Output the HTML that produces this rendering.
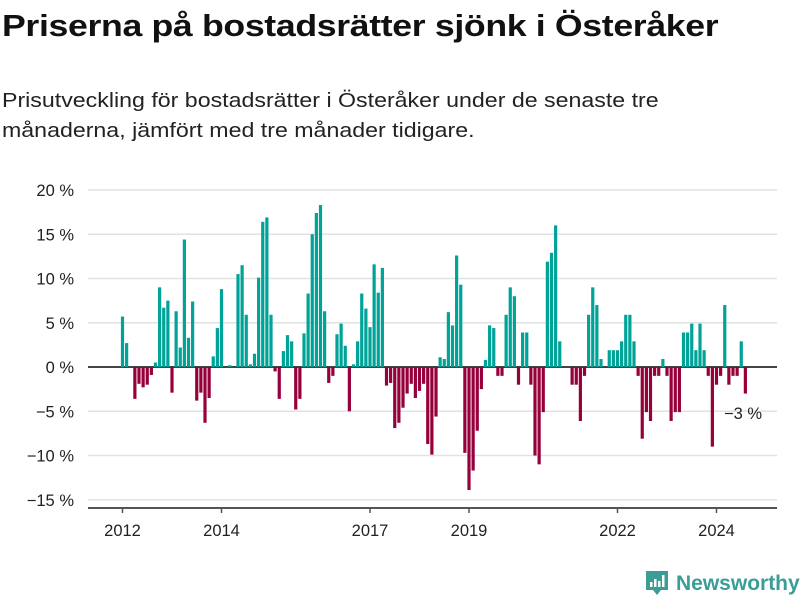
<!DOCTYPE html>
<html><head><meta charset="utf-8"><style>
body{margin:0;background:#fff;width:800px;height:600px;overflow:hidden;font-family:"Liberation Sans","DejaVu Sans",sans-serif;}
#title{position:absolute;left:2px;top:8px;font-size:31px;font-weight:bold;color:#111;margin:0;letter-spacing:-0.3px;white-space:nowrap;transform:scaleX(1.15);transform-origin:left top}
#sub{position:absolute;left:2px;top:86px;font-size:20.5px;line-height:30px;color:#222;width:600px;transform:scaleX(1.13);transform-origin:left top}
svg{position:absolute;left:0;top:0}
</style></head><body>
<h1 id="title">Priserna på bostadsrätter sjönk i Österåker</h1>
<div id="sub">Prisutveckling för bostadsrätter i Österåker under de senaste tre månaderna, jämfört med tre månader tidigare.</div>
<svg id="chart" width="800" height="600"></svg>
<script>
const values = [5.7,2.7,0,-3.6,-1.9,-2.3,-2.0,-0.9,0.5,9.0,6.7,7.5,-2.9,6.3,2.2,14.4,3.3,7.4,-3.8,-2.9,-6.3,-3.5,1.2,4.4,
8.8,0,0.2,0,10.5,11.5,5.9,0.3,1.5,10.1,16.4,16.9,5.9,-0.5,-3.6,1.8,3.6,2.9,-4.8,-3.6,3.8,8.3,15.0,17.4,
18.3,6.3,-1.8,-1.0,3.7,4.9,2.4,-5.0,0.3,2.9,8.3,6.6,4.5,11.6,8.4,11.2,-2.1,-1.8,-6.9,-6.3,-4.6,-3.0,-1.9,-3.5,
-2.7,-1.9,-8.7,-9.9,-5.6,1.1,0.9,6.2,4.7,12.6,9.3,-9.7,-13.9,-11.7,-7.2,-2.5,0.8,4.7,4.4,-1.0,-1.0,5.9,9.0,8.0,
-2.0,3.9,3.9,-2.0,-10.0,-11.0,-5.1,11.9,12.9,16.0,2.9,0,0,-2.0,-2.0,-6.1,-1.0,5.9,9.0,7.0,0.9,0,
1.9,1.9,1.9,2.9,5.9,5.9,2.9,-1.0,-8.1,-5.1,-6.1,-1.0,-1.0,0.9,-1.0,-6.1,-5.1,-5.1,3.9,3.9,4.9,1.9,4.9,1.9,
-1.0,-9.0,-2.0,-1.0,7.0,-2.0,-1.0,-1.0,2.9,-3.0];
const startYear = 2012;
const yTicks = [20,15,10,5,0,-5,-10,-15];
const xTickYears = [2012,2014,2017,2019,2022,2024];
const lastLabel = "−3 %";

const svg=document.getElementById('chart');const NS='http://www.w3.org/2000/svg';
function y(v){return 367-v*8.85;}
function x(i){return 122.5+i*4.125;}
function mk(t,a){const e=document.createElementNS(NS,t);for(const k in a)e.setAttribute(k,a[k]);svg.appendChild(e);return e;}
yTicks.forEach(t=>{
  const g=mk('line',{x1:88,x2:777,y1:y(t),y2:y(t),stroke:t===0?'#444':'#e2e2e2','stroke-width':t===0?2:1.5});
  
  
  const l=mk('text',{x:74,y:y(t)+6,'text-anchor':'end','font-size':16.5,fill:'#222','font-family':'Liberation Sans, sans-serif'});
  l.textContent=(t<0?'−'+(-t):t)+' %';
  
  
});
values.forEach((v,i)=>{
  const top=Math.min(y(v),y(0)),h=Math.abs(y(v)-y(0));
  const r=mk('rect',{x:x(i)-1.6,y:top,width:3.2,height:h,fill:v>=0?'#00a398':'#96003b'});
  
  
});
const ax=mk('line',{x1:88,x2:777,y1:508,y2:508,stroke:'#555','stroke-width':2});


xTickYears.forEach(yr=>{
  const i=(yr-startYear)*12;
  const t=mk('line',{x1:x(i),x2:x(i),y1:508,y2:513,stroke:'#555','stroke-width':1.5});
  
  
  const l=mk('text',{x:x(i),y:536,'text-anchor':'middle','font-size':16.5,fill:'#222','font-family':'Liberation Sans, sans-serif'});
  l.textContent=yr;
  
  
});
const lab=mk('text',{x:724,y:419,'font-size':16.5,fill:'#222','font-family':'Liberation Sans, sans-serif'});
lab.textContent=lastLabel;


</script>
<svg width="800" height="600" style="pointer-events:none">
<path d="M646 571 h22 v19 h-7 l-4 5 l-4 -5 h-7 z" fill="#3a9e96"/>
<rect x="650" y="582" width="2.5" height="5" fill="#fff"/><rect x="654" y="579" width="2.5" height="8" fill="#fff"/><rect x="658" y="581" width="2.5" height="6" fill="#fff"/><rect x="662" y="575" width="2.5" height="12" fill="#fff"/>
<text x="676" y="590" font-size="21" font-weight="bold" fill="#3a9e96" font-family="Liberation Sans, sans-serif">Newsworthy</text>
</svg>
</body></html>
